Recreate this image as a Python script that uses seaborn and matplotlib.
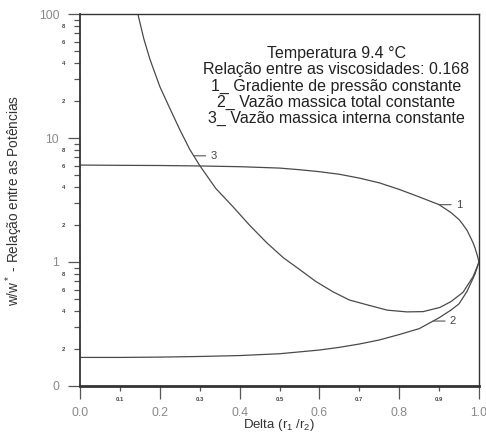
import numpy as np
import pandas as pd
import matplotlib
matplotlib.use("Agg")
import matplotlib.pyplot as plt
import matplotlib.ticker as mticker
import seaborn as sns

# ---- data ----
delta_1 = [0.0, 0.1, 0.2, 0.3, 0.4, 0.5, 0.55, 0.6, 0.65, 0.7, 0.75, 0.8,
           0.85, 0.9, 0.93, 0.95, 0.96, 0.97, 0.98, 0.985, 0.99, 0.995, 1.0]
ratio_1 = [6.05, 6.02, 6.0, 5.95, 5.87, 5.72, 5.55, 5.35, 5.1, 4.75, 4.35, 3.85,
           3.35, 2.9, 2.5, 2.2, 2.0, 1.8, 1.55, 1.43, 1.3, 1.15, 1.0]

delta_2 = [0.0, 0.1, 0.2, 0.3, 0.4, 0.5, 0.6, 0.65, 0.7, 0.75, 0.8, 0.85,
           0.9, 0.93, 0.95, 0.97, 0.98, 0.99, 1.0]
ratio_2 = [0.17, 0.17, 0.171, 0.173, 0.176, 0.182, 0.195, 0.205, 0.218, 0.235, 0.26, 0.29,
           0.355, 0.41, 0.46, 0.58, 0.68, 0.8, 1.0]

delta_3 = [0.145, 0.16, 0.175, 0.2, 0.226, 0.25, 0.275, 0.30, 0.34, 0.383, 0.425,
           0.468, 0.51, 0.551, 0.59, 0.634, 0.675, 0.719, 0.77, 0.819, 0.86, 0.902,
           0.93, 0.96, 0.985, 0.995, 1.0]
ratio_3 = [100, 63, 43.4, 26, 17.1, 11.7, 8.1, 6.0, 3.93, 2.8, 1.98,
           1.43, 1.08, 0.867, 0.70, 0.575, 0.494, 0.452, 0.409, 0.396, 0.398, 0.43,
           0.48, 0.57, 0.76, 0.91, 1.0]

curve_labels = ["1", "2", "3"]
label_at_delta = [0.9, 0.885, 0.285]

info_lines = ["Temperatura 9.4 °C",
              "Relação entre as viscosidades: 0.168",
              "1_ Gradiente de pressão constante",
              "2_ Vazão massica total constante",
              "3_ Vazão massica interna constante"]

x_major = [0.0, 0.2, 0.4, 0.6, 0.8, 1.0]
x_minor = [0.1, 0.3, 0.5, 0.7, 0.9]
y_major = [0.1, 1, 10, 100]
y_major_text = ["0", "1", "10", "100"]

# ---- styling ----
sns.set_theme(style="white")
plt.rcParams['font.family'] = ['Liberation Sans', 'DejaVu Sans']
plt.rcParams['mathtext.fontset'] = 'custom'
plt.rcParams['mathtext.rm'] = 'Liberation Sans'
plt.rcParams['mathtext.it'] = 'Liberation Sans'

fig = plt.figure(figsize=(4.86, 4.34), dpi=100)
ax = fig.add_axes([80 / 486, 48 / 434, 399 / 486, 372 / 434])

line_color = "#4a4a4a"
frames = [pd.DataFrame({"delta": d, "ratio": r, "curve": c})
          for d, r, c in zip([delta_1, delta_2, delta_3],
                             [ratio_1, ratio_2, ratio_3], curve_labels)]
df = pd.concat(frames, ignore_index=True)
for c in curve_labels:
    sub = df[df["curve"] == c]
    sns.lineplot(data=sub, x="delta", y="ratio", ax=ax, color=line_color,
                 linewidth=0.9, sort=False, estimator=None)

ax.set_yscale("log")
ax.set_xlim(0, 1)
ax.set_ylim(0.1, 100)

# y ticks
ax.yaxis.set_major_locator(mticker.FixedLocator(y_major))
ax.yaxis.set_major_formatter(mticker.FixedFormatter(y_major_text))
ax.yaxis.set_minor_locator(mticker.LogLocator(base=10, subs=np.arange(2, 10)))


def minor_fmt(v, pos):
    m = v / 10 ** np.floor(np.log10(v) + 1e-9)
    mi = int(round(m))
    return str(mi) if mi in (2, 4, 6, 8) else ""


ax.yaxis.set_minor_formatter(mticker.FuncFormatter(minor_fmt))

# x ticks
ax.xaxis.set_major_locator(mticker.FixedLocator(x_major))
ax.xaxis.set_major_formatter(mticker.FormatStrFormatter("%.1f"))
ax.xaxis.set_minor_locator(mticker.FixedLocator(x_minor))
ax.xaxis.set_minor_formatter(mticker.FormatStrFormatter("%.1f"))

ax.tick_params(axis="both", which="major", direction="out", length=9,
               width=0.9, color="#555555", labelsize=8.8, labelcolor="#8a8a8a",
               left=True, bottom=True)
ax.tick_params(axis="y", which="major", pad=6)
ax.tick_params(axis="x", which="major", pad=6)
ax.tick_params(axis="both", which="minor", direction="out", length=4.5,
               width=0.9, color="#555555", labelsize=4.2, labelcolor="#444444",
               left=True, bottom=True)
ax.tick_params(axis="y", which="minor", pad=6)
ax.tick_params(axis="x", which="minor", pad=4.5, length=3.5)
for t in ax.yaxis.get_minorticklabels() + ax.xaxis.get_minorticklabels():
    t.set_fontweight("bold")

for side, lw in [("bottom", 2.0), ("left", 1.3), ("top", 1.0), ("right", 1.0)]:
    ax.spines[side].set_linewidth(lw)
    ax.spines[side].set_color("#333333")
    ax.spines[side].set_visible(True)

ax.set_xlabel("Delta (r$_1$ /r$_2$)", fontsize=9.5, color="#333333", labelpad=-1.5)
ax.set_ylabel("w/w$^*$ - Relação entre as Potências", fontsize=9.8,
              color="#333333", labelpad=10)

# info text block
ax.text(0.642, 0.806, "\n".join(info_lines), transform=ax.transAxes,
        ha="center", va="center", fontsize=11.5, color="#222222",
        linespacing=1.1)

# curve labels with leaders
for lab, d, (xs, ys) in zip(curve_labels, label_at_delta,
                            [(delta_1, ratio_1), (delta_2, ratio_2), (delta_3, ratio_3)]):
    yv = np.exp(np.interp(d, xs, np.log(ys)))
    ax.annotate(lab, xy=(d, yv), xytext=(12, 0), textcoords="offset points",
                ha="left", va="center", fontsize=8, color="#444444",
                arrowprops=dict(arrowstyle="-", color="#555555", lw=0.8,
                                shrinkA=1, shrinkB=0))

fig.savefig("out.png", dpi=100)
